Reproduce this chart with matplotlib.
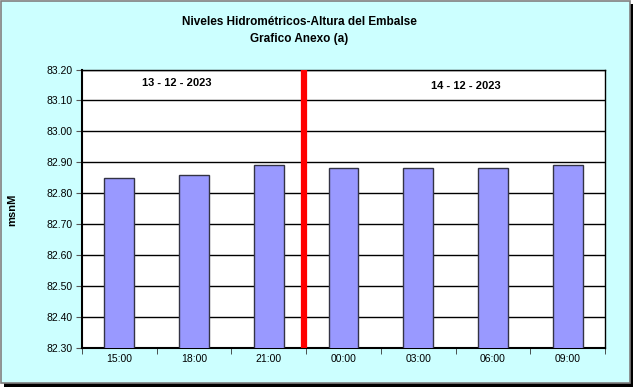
import matplotlib.pyplot as plt
from matplotlib.patches import Rectangle
import numpy as np

plt.rcParams['font.family'] = ['Liberation Sans', 'DejaVu Sans']

horas = ['15:00', '18:00', '21:00', '00:00', '03:00', '06:00', '09:00']
niveles = [82.85, 82.86, 82.89, 82.88, 82.88, 82.88, 82.89]
y_ticks = [82.30, 82.40, 82.50, 82.60, 82.70, 82.80, 82.90, 83.00, 83.10, 83.20]
fechas = ['13 - 12 - 2023', '14 - 12 - 2023']
corte = 2.47  # cambio de dia

fig = plt.figure(figsize=(6.33, 3.87), dpi=100)
fig.patch.set_facecolor('white')

# marco con sombra
fig.patches.append(Rectangle((4 / 633, 0), 629 / 633, 383 / 387, transform=fig.transFigure,
                             facecolor='black', edgecolor='none', zorder=-2))
fig.patches.append(Rectangle((1 / 633, 4 / 387), 629 / 633, 382 / 387, transform=fig.transFigure,
                             facecolor='#CCFFFF', edgecolor='#808080', linewidth=1.2, zorder=-1))

ax = fig.add_axes([82 / 633, 1 - 347.5 / 387, (605 - 82) / 633, (347.5 - 69.5) / 387])
ax.set_facecolor('white')

x = np.arange(len(horas))
ax.bar(x, niveles, width=0.4, color='#9999FF', edgecolor='#333344', linewidth=1.0,
       zorder=3, bottom=0)
ax.set_ylim(82.30, 83.20)
ax.set_xlim(-0.5, len(horas) - 0.5)

ax.set_yticks(y_ticks)
ax.set_yticklabels(['%.2f' % v for v in y_ticks], fontsize=7.5)
ax.yaxis.grid(True, color='black', linewidth=1.0, zorder=0)
ax.set_axisbelow(True)

ax.set_xticks(x)
ax.set_xticklabels(horas, fontsize=7.5)
ax.set_xticks(np.arange(-0.5, len(horas)), minor=True)
ax.tick_params(axis='x', which='major', length=0, pad=5)
ax.tick_params(axis='x', which='minor', length=4, color='#333333', direction='out')
ax.tick_params(axis='y', length=4, color='#555555', direction='out', pad=3)

for s in ax.spines.values():
    s.set_color('black')
    s.set_linewidth(1.0)
ax.spines['bottom'].set_linewidth(1.5)
ax.spines['left'].set_linewidth(1.5)

ax.axvline(corte, color='#FF0000', linewidth=4.5, zorder=4)

ax.text(0.77, 83.157, fechas[0], fontsize=8, fontweight='bold', ha='center', va='center', zorder=5)
ax.text(4.64, 83.148, fechas[1], fontsize=8, fontweight='bold', ha='center', va='center', zorder=5)

fig.text(299 / 633, 1 - 22 / 387, 'Niveles Hidrométricos-Altura del Embalse', fontsize=8.5,
         fontweight='bold', ha='center', va='center')
fig.text(299 / 633, 1 - 39 / 387, 'Grafico Anexo (a)', fontsize=8.5,
         fontweight='bold', ha='center', va='center')
fig.text(12 / 633, 1 - 210 / 387, 'msnM', fontsize=8, fontweight='bold', rotation=90,
         ha='center', va='center')

fig.savefig('out.png', dpi=100, facecolor=fig.get_facecolor())
